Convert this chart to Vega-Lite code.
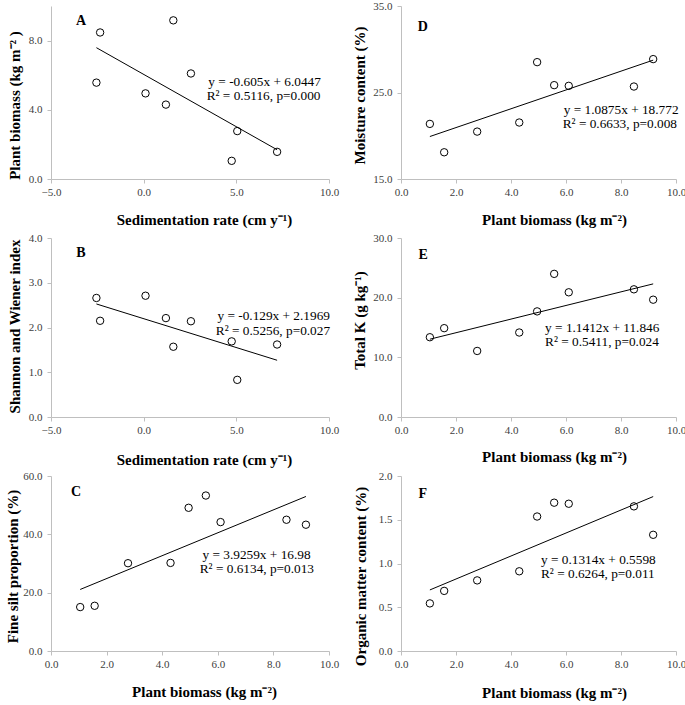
{
  "$schema": "https://vega.github.io/schema/vega-lite/v6.json",
  "background": "white",
  "padding": {"left": 4, "top": 0, "right": 4, "bottom": 4},
  "datasets": {
    "sites": [
      {"sed": 4.75, "biomass": 1.05, "shannon": 1.69, "silt": 15.06, "moisture": 21.37, "k": 13.37, "om": 0.544},
      {"sed": 7.2, "biomass": 1.57, "shannon": 1.62, "silt": 15.5, "moisture": 18.09, "k": 14.89, "om": 0.687},
      {"sed": 5.05, "biomass": 2.77, "shannon": 0.83, "silt": 30.1, "moisture": 20.48, "k": 11.07, "om": 0.807},
      {"sed": 1.2, "biomass": 4.3, "shannon": 2.21, "silt": 30.2, "moisture": 21.53, "k": 14.16, "om": 0.911},
      {"sed": 0.1, "biomass": 4.95, "shannon": 2.71, "silt": 49.1, "moisture": 28.51, "k": 17.7, "om": 1.537},
      {"sed": -2.55, "biomass": 5.57, "shannon": 2.66, "silt": 53.3, "moisture": 25.85, "k": 23.99, "om": 1.695},
      {"sed": 2.55, "biomass": 6.1, "shannon": 2.14, "silt": 44.2, "moisture": 25.77, "k": 20.9, "om": 1.683},
      {"sed": -2.35, "biomass": 8.47, "shannon": 2.15, "silt": 45.0, "moisture": 25.69, "k": 21.4, "om": 1.653},
      {"sed": 1.6, "biomass": 9.17, "shannon": 1.57, "silt": 43.3, "moisture": 28.86, "k": 19.66, "om": 1.328}
    ],
    "fits": [
      {"panel": "A", "sed": -2.55, "biomass": 7.59},
      {"panel": "A", "sed": 7.2, "biomass": 1.69},
      {"panel": "B", "sed": -2.55, "shannon": 2.526},
      {"panel": "B", "sed": 7.2, "shannon": 1.268},
      {"panel": "C", "biomass": 1.05, "silt": 21.1},
      {"panel": "C", "biomass": 9.17, "silt": 52.98},
      {"panel": "D", "biomass": 1.05, "moisture": 19.91},
      {"panel": "D", "biomass": 9.17, "moisture": 28.74},
      {"panel": "E", "biomass": 1.05, "k": 13.04},
      {"panel": "E", "biomass": 9.17, "k": 22.31},
      {"panel": "F", "biomass": 1.05, "om": 0.698},
      {"panel": "F", "biomass": 9.17, "om": 1.765}
    ],
    "notes": [
      {"panel": "A", "kind": "eq", "sed": 3.49, "biomass": 5.63, "label": "y = -0.605x + 6.0447"},
      {"panel": "A", "kind": "eq", "sed": 3.4, "biomass": 4.77, "label": "R² = 0.5116, p=0.000"},
      {"panel": "A", "kind": "letter", "sed": -3.38, "biomass": 9.15, "label": "A"},
      {"panel": "B", "kind": "eq", "sed": 3.98, "shannon": 2.26, "label": "y = -0.129x + 2.1969"},
      {"panel": "B", "kind": "eq", "sed": 3.89, "shannon": 1.92, "label": "R² = 0.5256, p=0.027"},
      {"panel": "B", "kind": "letter", "sed": -3.38, "shannon": 3.67, "label": "B"},
      {"panel": "C", "kind": "eq", "biomass": 5.45, "silt": 32.8, "label": "y = 3.9259x + 16.98"},
      {"panel": "C", "kind": "eq", "biomass": 5.35, "silt": 28.1, "label": "R² = 0.6134, p=0.013"},
      {"panel": "C", "kind": "letter", "biomass": 0.9, "silt": 54.4, "label": "C"},
      {"panel": "D", "kind": "eq", "biomass": 5.92, "moisture": 23.03, "label": "y = 1.0875x + 18.772"},
      {"panel": "D", "kind": "eq", "biomass": 5.88, "moisture": 21.41, "label": "R² = 0.6633, p=0.008"},
      {"panel": "D", "kind": "letter", "biomass": 0.79, "moisture": 32.6, "label": "D"},
      {"panel": "E", "kind": "eq", "biomass": 5.24, "k": 14.94, "label": "y = 1.1412x + 11.846"},
      {"panel": "E", "kind": "eq", "biomass": 5.24, "k": 12.58, "label": "R² = 0.5411, p=0.024"},
      {"panel": "E", "kind": "letter", "biomass": 0.81, "k": 27.1, "label": "E"},
      {"panel": "F", "kind": "eq", "biomass": 5.09, "om": 1.039, "label": "y = 0.1314x + 0.5598"},
      {"panel": "F", "kind": "eq", "biomass": 5.09, "om": 0.876, "label": "R² = 0.6264, p=0.011"},
      {"panel": "F", "kind": "letter", "biomass": 0.79, "om": 1.8, "label": "F"}
    ]
  },
  "bounds": "flush",
  "columns": 2,
  "spacing": {"row": 59, "column": 72},
  "concat": [
    {
      "width": 278, "height": 173,
      "encoding": {
        "x": {"field": "sed", "type": "quantitative", "scale": {"domain": [-5, 10], "nice": false}, "axis": {"title": "Sedimentation rate (cm y⁻¹)", "values": [-5, 0, 5, 10], "format": ".1f", "titleX": 153, "titleY": 40}},
        "y": {"field": "biomass", "type": "quantitative", "scale": {"domain": [0, 10], "nice": false}, "axis": {"title": "Plant biomass (kg  m⁻² )", "values": [0, 4, 8], "format": ".1f", "titleX": -37, "titleY": 99}}
      },
      "layer": [
        {"data": {"name": "sites"}, "mark": {"type": "point", "shape": "circle", "filled": false, "color": "black", "size": 55, "strokeWidth": 1, "opacity": 1}},
        {"data": {"name": "fits"}, "transform": [{"filter": "datum.panel === 'A'"}], "mark": {"type": "line", "color": "black", "strokeWidth": 1}, "encoding": {}},
        {"data": {"name": "notes"}, "transform": [{"filter": "datum.panel === 'A' && datum.kind === 'eq'"}], "mark": {"type": "text", "align": "left", "baseline": "middle", "fontSize": 13.3, "font": "Liberation Serif", "color": "black"}, "encoding": {"text": {"field": "label"}}},
        {"data": {"name": "notes"}, "transform": [{"filter": "datum.panel === 'A' && datum.kind === 'letter'"}], "mark": {"type": "text", "align": "center", "baseline": "middle", "fontSize": 14, "fontWeight": "bold", "font": "Liberation Serif", "color": "black"}, "encoding": {"text": {"field": "label"}}}
      ]
    },
    {
      "width": 275, "height": 173,
      "encoding": {
        "x": {"field": "biomass", "type": "quantitative", "scale": {"domain": [0, 10], "nice": false}, "axis": {"title": "Plant biomass (kg m⁻²)", "values": [0, 2, 4, 6, 8, 10], "format": ".1f", "titleX": 153, "titleY": 40}},
        "y": {"field": "moisture", "type": "quantitative", "scale": {"domain": [15, 35], "nice": false, "zero": false}, "axis": {"title": "Moisture content (%)", "values": [15, 25, 35], "format": ".1f", "titleX": -42, "titleY": 89}}
      },
      "layer": [
        {"data": {"name": "sites"}, "mark": {"type": "point", "shape": "circle", "filled": false, "color": "black", "size": 55, "strokeWidth": 1, "opacity": 1}},
        {"data": {"name": "fits"}, "transform": [{"filter": "datum.panel === 'D'"}], "mark": {"type": "line", "color": "black", "strokeWidth": 1}, "encoding": {}},
        {"data": {"name": "notes"}, "transform": [{"filter": "datum.panel === 'D' && datum.kind === 'eq'"}], "mark": {"type": "text", "align": "left", "baseline": "middle", "fontSize": 13.3, "font": "Liberation Serif", "color": "black"}, "encoding": {"text": {"field": "label"}}},
        {"data": {"name": "notes"}, "transform": [{"filter": "datum.panel === 'D' && datum.kind === 'letter'"}], "mark": {"type": "text", "align": "center", "baseline": "middle", "fontSize": 14, "fontWeight": "bold", "font": "Liberation Serif", "color": "black"}, "encoding": {"text": {"field": "label"}}}
      ]
    },
    {
      "width": 278, "height": 179,
      "encoding": {
        "x": {"field": "sed", "type": "quantitative", "scale": {"domain": [-5, 10], "nice": false}, "axis": {"title": "Sedimentation rate (cm y⁻¹)", "values": [-5, 0, 5, 10], "format": ".1f", "titleX": 153, "titleY": 42}},
        "y": {"field": "shannon", "type": "quantitative", "scale": {"domain": [0, 4], "nice": false}, "axis": {"title": "Shannon and Wiener index", "values": [0, 1, 2, 3, 4], "format": ".1f", "titleX": -37, "titleY": 88}}
      },
      "layer": [
        {"data": {"name": "sites"}, "mark": {"type": "point", "shape": "circle", "filled": false, "color": "black", "size": 55, "strokeWidth": 1, "opacity": 1}},
        {"data": {"name": "fits"}, "transform": [{"filter": "datum.panel === 'B'"}], "mark": {"type": "line", "color": "black", "strokeWidth": 1}, "encoding": {}},
        {"data": {"name": "notes"}, "transform": [{"filter": "datum.panel === 'B' && datum.kind === 'eq'"}], "mark": {"type": "text", "align": "left", "baseline": "middle", "fontSize": 13.3, "font": "Liberation Serif", "color": "black"}, "encoding": {"text": {"field": "label"}}},
        {"data": {"name": "notes"}, "transform": [{"filter": "datum.panel === 'B' && datum.kind === 'letter'"}], "mark": {"type": "text", "align": "center", "baseline": "middle", "fontSize": 14, "fontWeight": "bold", "font": "Liberation Serif", "color": "black"}, "encoding": {"text": {"field": "label"}}}
      ]
    },
    {
      "width": 275, "height": 179,
      "encoding": {
        "x": {"field": "biomass", "type": "quantitative", "scale": {"domain": [0, 10], "nice": false}, "axis": {"title": "Plant biomass (kg m⁻²)", "values": [0, 2, 4, 6, 8, 10], "format": ".1f", "titleX": 153, "titleY": 39}},
        "y": {"field": "k", "type": "quantitative", "scale": {"domain": [0, 30], "nice": false}, "axis": {"title": "Total K (g kg⁻¹)", "values": [0, 10, 20, 30], "format": ".1f", "titleX": -42, "titleY": 82}}
      },
      "layer": [
        {"data": {"name": "sites"}, "mark": {"type": "point", "shape": "circle", "filled": false, "color": "black", "size": 55, "strokeWidth": 1, "opacity": 1}},
        {"data": {"name": "fits"}, "transform": [{"filter": "datum.panel === 'E'"}], "mark": {"type": "line", "color": "black", "strokeWidth": 1}, "encoding": {}},
        {"data": {"name": "notes"}, "transform": [{"filter": "datum.panel === 'E' && datum.kind === 'eq'"}], "mark": {"type": "text", "align": "left", "baseline": "middle", "fontSize": 13.3, "font": "Liberation Serif", "color": "black"}, "encoding": {"text": {"field": "label"}}},
        {"data": {"name": "notes"}, "transform": [{"filter": "datum.panel === 'E' && datum.kind === 'letter'"}], "mark": {"type": "text", "align": "center", "baseline": "middle", "fontSize": 14, "fontWeight": "bold", "font": "Liberation Serif", "color": "black"}, "encoding": {"text": {"field": "label"}}}
      ]
    },
    {
      "width": 278, "height": 175,
      "encoding": {
        "x": {"field": "biomass", "type": "quantitative", "scale": {"domain": [0, 10], "nice": false}, "axis": {"title": "Plant biomass (kg m⁻²)", "values": [0, 2, 4, 6, 8, 10], "format": ".1f", "titleX": 153, "titleY": 40}},
        "y": {"field": "silt", "type": "quantitative", "scale": {"domain": [0, 60], "nice": false}, "axis": {"title": "Fine silt proportion  (%)", "values": [0, 20, 40, 60], "format": ".1f", "titleX": -39, "titleY": 90}}
      },
      "layer": [
        {"data": {"name": "sites"}, "mark": {"type": "point", "shape": "circle", "filled": false, "color": "black", "size": 55, "strokeWidth": 1, "opacity": 1}},
        {"data": {"name": "fits"}, "transform": [{"filter": "datum.panel === 'C'"}], "mark": {"type": "line", "color": "black", "strokeWidth": 1}, "encoding": {}},
        {"data": {"name": "notes"}, "transform": [{"filter": "datum.panel === 'C' && datum.kind === 'eq'"}], "mark": {"type": "text", "align": "left", "baseline": "middle", "fontSize": 13.3, "font": "Liberation Serif", "color": "black"}, "encoding": {"text": {"field": "label"}}},
        {"data": {"name": "notes"}, "transform": [{"filter": "datum.panel === 'C' && datum.kind === 'letter'"}], "mark": {"type": "text", "align": "center", "baseline": "middle", "fontSize": 14, "fontWeight": "bold", "font": "Liberation Serif", "color": "black"}, "encoding": {"text": {"field": "label"}}}
      ]
    },
    {
      "width": 275, "height": 175,
      "encoding": {
        "x": {"field": "biomass", "type": "quantitative", "scale": {"domain": [0, 10], "nice": false}, "axis": {"title": "Plant biomass (kg m⁻²)", "values": [0, 2, 4, 6, 8, 10], "format": ".1f", "titleX": 153, "titleY": 41}},
        "y": {"field": "om", "type": "quantitative", "scale": {"domain": [0, 2], "nice": false}, "axis": {"title": "Organic matter content (%)", "values": [0, 0.5, 1, 1.5, 2], "format": ".1f", "titleX": -41, "titleY": 100}}
      },
      "layer": [
        {"data": {"name": "sites"}, "mark": {"type": "point", "shape": "circle", "filled": false, "color": "black", "size": 55, "strokeWidth": 1, "opacity": 1}},
        {"data": {"name": "fits"}, "transform": [{"filter": "datum.panel === 'F'"}], "mark": {"type": "line", "color": "black", "strokeWidth": 1}, "encoding": {}},
        {"data": {"name": "notes"}, "transform": [{"filter": "datum.panel === 'F' && datum.kind === 'eq'"}], "mark": {"type": "text", "align": "left", "baseline": "middle", "fontSize": 13.3, "font": "Liberation Serif", "color": "black"}, "encoding": {"text": {"field": "label"}}},
        {"data": {"name": "notes"}, "transform": [{"filter": "datum.panel === 'F' && datum.kind === 'letter'"}], "mark": {"type": "text", "align": "center", "baseline": "middle", "fontSize": 14, "fontWeight": "bold", "font": "Liberation Serif", "color": "black"}, "encoding": {"text": {"field": "label"}}}
      ]
    }
  ],
  "config": {
    "view": {"stroke": null},
    "font": "Liberation Serif",
    "axis": {
      "grid": false,
      "domainColor": "#bfbfbf",
      "tickColor": "#bfbfbf",
      "tickSize": 4,
      "labelFont": "Liberation Serif",
      "labelFontSize": 11,
      "labelColor": "#404040",
      "labelFlush": false,
      "labelOverlap": false,
      "titleFont": "Liberation Serif",
      "titleFontSize": 15,
      "titleFontWeight": "bold",
      "titleColor": "black",
      "titleBaseline": "middle"
    },
    "axisX": {"labelPadding": 3, "labelAngle": 0},
    "axisY": {"labelPadding": 5, "titleAngle": -90}
  }
}
